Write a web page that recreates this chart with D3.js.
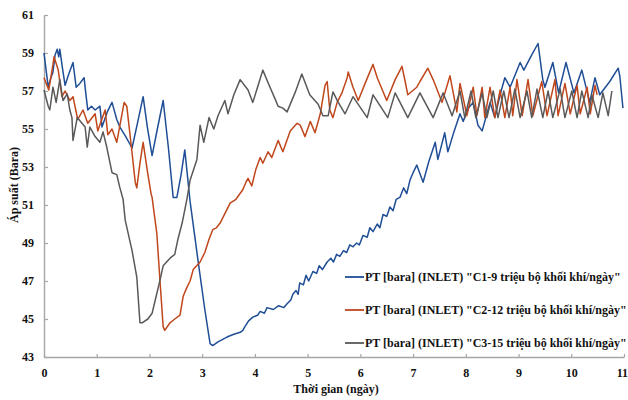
<!DOCTYPE html>
<html>
<head>
<meta charset="utf-8">
<script src="https://cdn.jsdelivr.net/npm/d3@7.9.0/dist/d3.min.js"></script>
<style>
  body { margin: 0; background: #fff; }
  text { font-family: "Liberation Serif", "Times New Roman", serif; font-weight: bold; fill: #111; }
</style>
</head>
<body>
<svg id="chart" width="628" height="400"></svg>
<script>
// [ngày, bara]
let c1 = [
  [0.00,59.0],[0.04,58.1],[0.08,57.2],[0.12,57.6],[0.17,58.0],[0.21,58.9],[0.25,59.2],[0.28,58.8],[0.30,59.2],
  [0.35,58.2],[0.40,57.3],[0.47,57.9],[0.55,58.5],[0.61,57.2],[0.68,57.4],[0.76,57.7],[0.80,56.7],[0.83,56.0],
  [0.90,56.2],[0.97,56.0],[1.06,56.2],[1.10,55.1],[1.20,55.9],[1.29,56.4],[1.38,55.5],[1.44,55.1],[1.55,54.6],
  [1.67,54.0],[1.78,55.4],[1.88,56.7],[1.96,55.1],[2.05,53.6],[2.15,55.0],[2.26,56.5],[2.36,54.0],[2.45,51.4],
  [2.52,51.4],[2.60,52.6],[2.67,53.9],[2.77,51.2],[2.92,48.1],[3.05,45.5],[3.15,43.7],[3.20,43.6],[3.30,43.8],
  [3.47,44.05],[3.60,44.2],[3.72,44.3],[3.77,44.4],[3.81,44.6],[3.88,44.9],[3.96,45.1],[4.05,45.2],[4.10,45.4],
  [4.18,45.3],[4.23,45.6],[4.35,45.5],[4.45,45.7],[4.55,45.6],[4.61,45.8],[4.68,46.0],[4.72,46.3],[4.78,46.5],
  [4.82,46.3],[4.85,46.9],[4.92,46.8],[4.97,47.3],[5.02,47.0],[5.10,47.5],[5.17,47.4],[5.22,47.8],[5.28,47.6],
  [5.37,48.0],[5.44,48.2],[5.49,48.0],[5.55,48.4],[5.61,48.3],[5.68,48.6],[5.74,48.5],[5.80,48.9],[5.86,48.8],
  [5.93,49.0],[5.98,48.9],[6.05,49.4],[6.13,49.3],[6.18,49.8],[6.24,49.6],[6.32,50.0],[6.37,49.8],[6.43,50.5],
  [6.50,50.4],[6.56,50.9],[6.62,50.7],[6.68,51.3],[6.75,51.4],[6.82,51.9],[6.88,51.6],[6.94,52.3],[7.00,52.7],
  [7.07,53.1],[7.19,52.2],[7.30,53.3],[7.42,54.3],[7.47,53.4],[7.60,54.8],[7.66,53.8],[7.78,54.9],[7.89,55.8],
  [7.95,55.4],[8.05,56.1],[8.14,56.4],[8.23,55.2],[8.31,54.9],[8.40,55.8],[8.46,56.4],[8.55,55.6],[8.65,56.8],
  [8.74,57.7],[8.84,57.2],[9.03,58.5],[9.10,58.1],[9.25,58.9],[9.37,59.5],[9.46,57.6],[9.50,57.2],[9.65,58.5],
  [9.76,56.9],[9.90,58.5],[10.05,56.9],[10.20,58.1],[10.35,56.4],[10.45,57.7],[10.54,56.8],[10.73,57.5],
  [10.89,58.2],[10.92,57.8],[10.98,56.1]
];

let c2 = [
  [0.00,57.7],[0.09,57.05],[0.17,58.4],[0.19,58.8],[0.27,58.1],[0.34,56.7],[0.40,57.0],[0.49,56.5],[0.55,56.7],
  [0.64,55.5],[0.74,56.0],[0.83,55.3],[0.97,55.8],[1.02,54.9],[1.12,55.7],[1.16,56.0],[1.21,54.7],[1.29,55.0],
  [1.38,54.3],[1.52,56.4],[1.57,56.2],[1.66,54.0],[1.73,52.2],[1.76,51.9],[1.82,53.2],[1.88,54.3],[1.96,52.8],
  [2.03,51.6],[2.05,51.4],[2.14,49.5],[2.20,47.0],[2.26,44.6],[2.29,44.4],[2.39,44.8],[2.48,45.0],[2.58,45.2],
  [2.64,46.2],[2.70,46.6],[2.77,47.0],[2.83,47.6],[2.96,48.0],[3.05,48.5],[3.13,49.2],[3.20,49.7],[3.27,49.8],
  [3.34,50.05],[3.44,50.6],[3.53,51.1],[3.64,51.3],[3.77,51.8],[3.83,52.2],[3.87,52.4],[3.94,52.0],[4.02,52.9],
  [4.10,53.5],[4.15,53.2],[4.25,53.8],[4.32,53.5],[4.44,54.4],[4.53,53.8],[4.67,54.9],[4.80,55.3],[4.86,55.2],
  [4.95,54.6],[5.05,55.4],[5.14,54.8],[5.24,55.8],[5.33,57.3],[5.37,57.5],[5.42,56.0],[5.48,55.6],[5.56,56.4],
  [5.65,56.9],[5.75,57.7],[5.77,58.0],[5.86,57.2],[5.96,56.5],[6.09,57.4],[6.24,58.4],[6.32,57.7],[6.50,56.5],
  [6.66,57.6],[6.79,58.3],[6.85,57.5],[6.90,56.8],[7.07,57.2],[7.13,57.5],[7.28,58.2],[7.38,57.6],[7.55,56.4],
  [7.70,57.8],[7.83,55.9],[7.89,57.4],[8.02,55.7],[8.14,57.2],[8.21,55.7],[8.31,57.2],[8.36,55.6],[8.46,57.2],
  [8.55,55.6],[8.65,57.05],[8.74,55.6],[8.84,57.2],[8.89,55.7],[8.97,57.6],[9.07,55.7],[9.18,57.6],[9.27,55.7],
  [9.44,57.5],[9.54,55.7],[9.69,57.6],[9.75,55.7],[9.88,57.4],[9.98,55.8],[10.11,57.3],[10.17,55.8],[10.30,57.2],
  [10.36,55.8],[10.45,57.3],[10.49,56.8]
];

let c3 = [
  [0.00,57.05],[0.08,56.2],[0.11,56.0],[0.17,57.2],[0.23,56.4],[0.30,57.6],[0.36,56.5],[0.44,56.85],[0.49,56.0],
  [0.53,55.6],[0.55,54.4],[0.63,55.6],[0.72,55.3],[0.78,55.1],[0.82,54.05],[0.87,55.1],[0.97,54.6],[1.06,54.3],
  [1.12,54.85],[1.19,54.05],[1.29,52.7],[1.38,52.6],[1.44,51.9],[1.50,51.3],[1.54,50.2],[1.67,48.6],[1.76,47.2],
  [1.82,44.8],[1.86,44.8],[1.97,45.0],[2.05,45.3],[2.11,46.0],[2.20,47.05],[2.26,47.8],[2.39,48.2],[2.48,48.4],
  [2.54,49.2],[2.62,50.05],[2.71,51.3],[2.77,52.3],[2.83,52.8],[2.90,53.4],[2.96,55.2],[3.03,54.3],[3.13,55.6],
  [3.22,55.0],[3.30,55.7],[3.43,56.5],[3.49,55.8],[3.60,56.8],[3.72,57.6],[3.87,57.05],[3.96,56.4],[4.05,57.2],
  [4.15,58.1],[4.27,57.3],[4.38,56.6],[4.44,56.2],[4.53,56.1],[4.61,55.9],[4.76,56.9],[4.89,57.9],[5.04,56.8],
  [5.20,56.3],[5.29,55.7],[5.39,55.7],[5.48,56.95],[5.58,56.4],[5.71,55.8],[5.86,56.7],[6.13,55.6],[6.24,56.8],
  [6.52,55.6],[6.66,56.9],[6.90,55.6],[7.13,56.9],[7.38,55.6],[7.57,56.9],[7.74,55.7],[7.89,57.0],[7.98,55.6],
  [8.10,57.0],[8.19,55.6],[8.31,56.9],[8.40,55.6],[8.52,57.0],[8.61,55.6],[8.72,57.0],[8.82,55.6],[8.93,57.1],
  [9.03,55.6],[9.16,57.0],[9.25,55.6],[9.35,57.1],[9.46,55.6],[9.56,57.0],[9.65,55.6],[9.79,57.1],[9.88,55.6],
  [10.01,57.0],[10.11,55.6],[10.20,57.0],[10.32,55.6],[10.39,56.8],[10.51,55.6],[10.60,56.9],[10.70,55.7],
  [10.77,57.0]
];

let seriesNames = [
  'PT [bara]|(INLET)|"C1-9 triệu bộ khối khí/ngày"',
  'PT [bara]|(INLET)|"C2-12 triệu bộ khối khí/ngày"',
  'PT [bara]|(INLET)|"C3-15 triệu bộ khối khí/ngày"'
];
let colors = ['#1f4e96', '#c0461c', '#595959'];
let xTicks = d3.range(0, 12);
let yTicks = d3.range(43, 62, 2);

let svg = d3.select('#chart');
let x = d3.scaleLinear().domain([0, 11]).range([44, 624]);
let y = d3.scaleLinear().domain([43, 61]).range([357, 15]);

let gx = svg.append('g')
  .attr('transform', 'translate(0,357)')
  .call(d3.axisBottom(x).tickValues(xTicks).tickSize(-3).tickSizeOuter(0).tickPadding(11));
let gy = svg.append('g')
  .attr('transform', 'translate(44,0)')
  .call(d3.axisLeft(y).tickValues(yTicks).tickSize(-4).tickSizeOuter(0).tickPadding(10));

[gx, gy].forEach((g) => {
  g.select('.domain').attr('stroke', '#a6a6a6').attr('stroke-width', 1.4);
  g.selectAll('.tick line').attr('stroke', '#a6a6a6').attr('stroke-width', 1.2);
  g.selectAll('.tick text').attr('font-size', 12).attr('fill', '#111')
    .attr('font-family', '"Liberation Serif", serif').attr('font-weight', 'bold');
});
// last label sits right at the window edge
gx.selectAll('.tick text').filter((d) => d === 11)
  .attr('text-anchor', 'end').attr('dx', 3.5);

let line = d3.line().x((d) => x(d[0])).y((d) => y(d[1]));
[c1, c2, c3].forEach((s, i) => {
  svg.append('path')
    .attr('d', line(s))
    .attr('fill', 'none')
    .attr('stroke', colors[i])
    .attr('stroke-width', 1.5)
    .attr('stroke-linejoin', 'round');
});

// legend
let legend = svg.append('g');
seriesNames.forEach((name, i) => {
  let ly = 277 + i * 33;
  legend.append('line')
    .attr('x1', 345).attr('x2', 364).attr('y1', ly).attr('y2', ly)
    .attr('stroke', colors[i]).attr('stroke-width', 1.8);
  let parts = name.split('|');
  let t = legend.append('text').attr('y', ly + 4).attr('font-size', 12);
  [365, 418, 466].forEach((px, j) => {
    t.append('tspan').attr('x', px).text(parts[j]);
  });
});

svg.append('text')
  .attr('x', 336).attr('y', 393)
  .attr('text-anchor', 'middle').attr('font-size', 12)
  .text('Thời gian (ngày)');

svg.append('text')
  .attr('transform', 'translate(18,185) rotate(-90)')
  .attr('text-anchor', 'middle').attr('font-size', 12)
  .text('Áp suất (Bara)');
</script>
</body>
</html>
